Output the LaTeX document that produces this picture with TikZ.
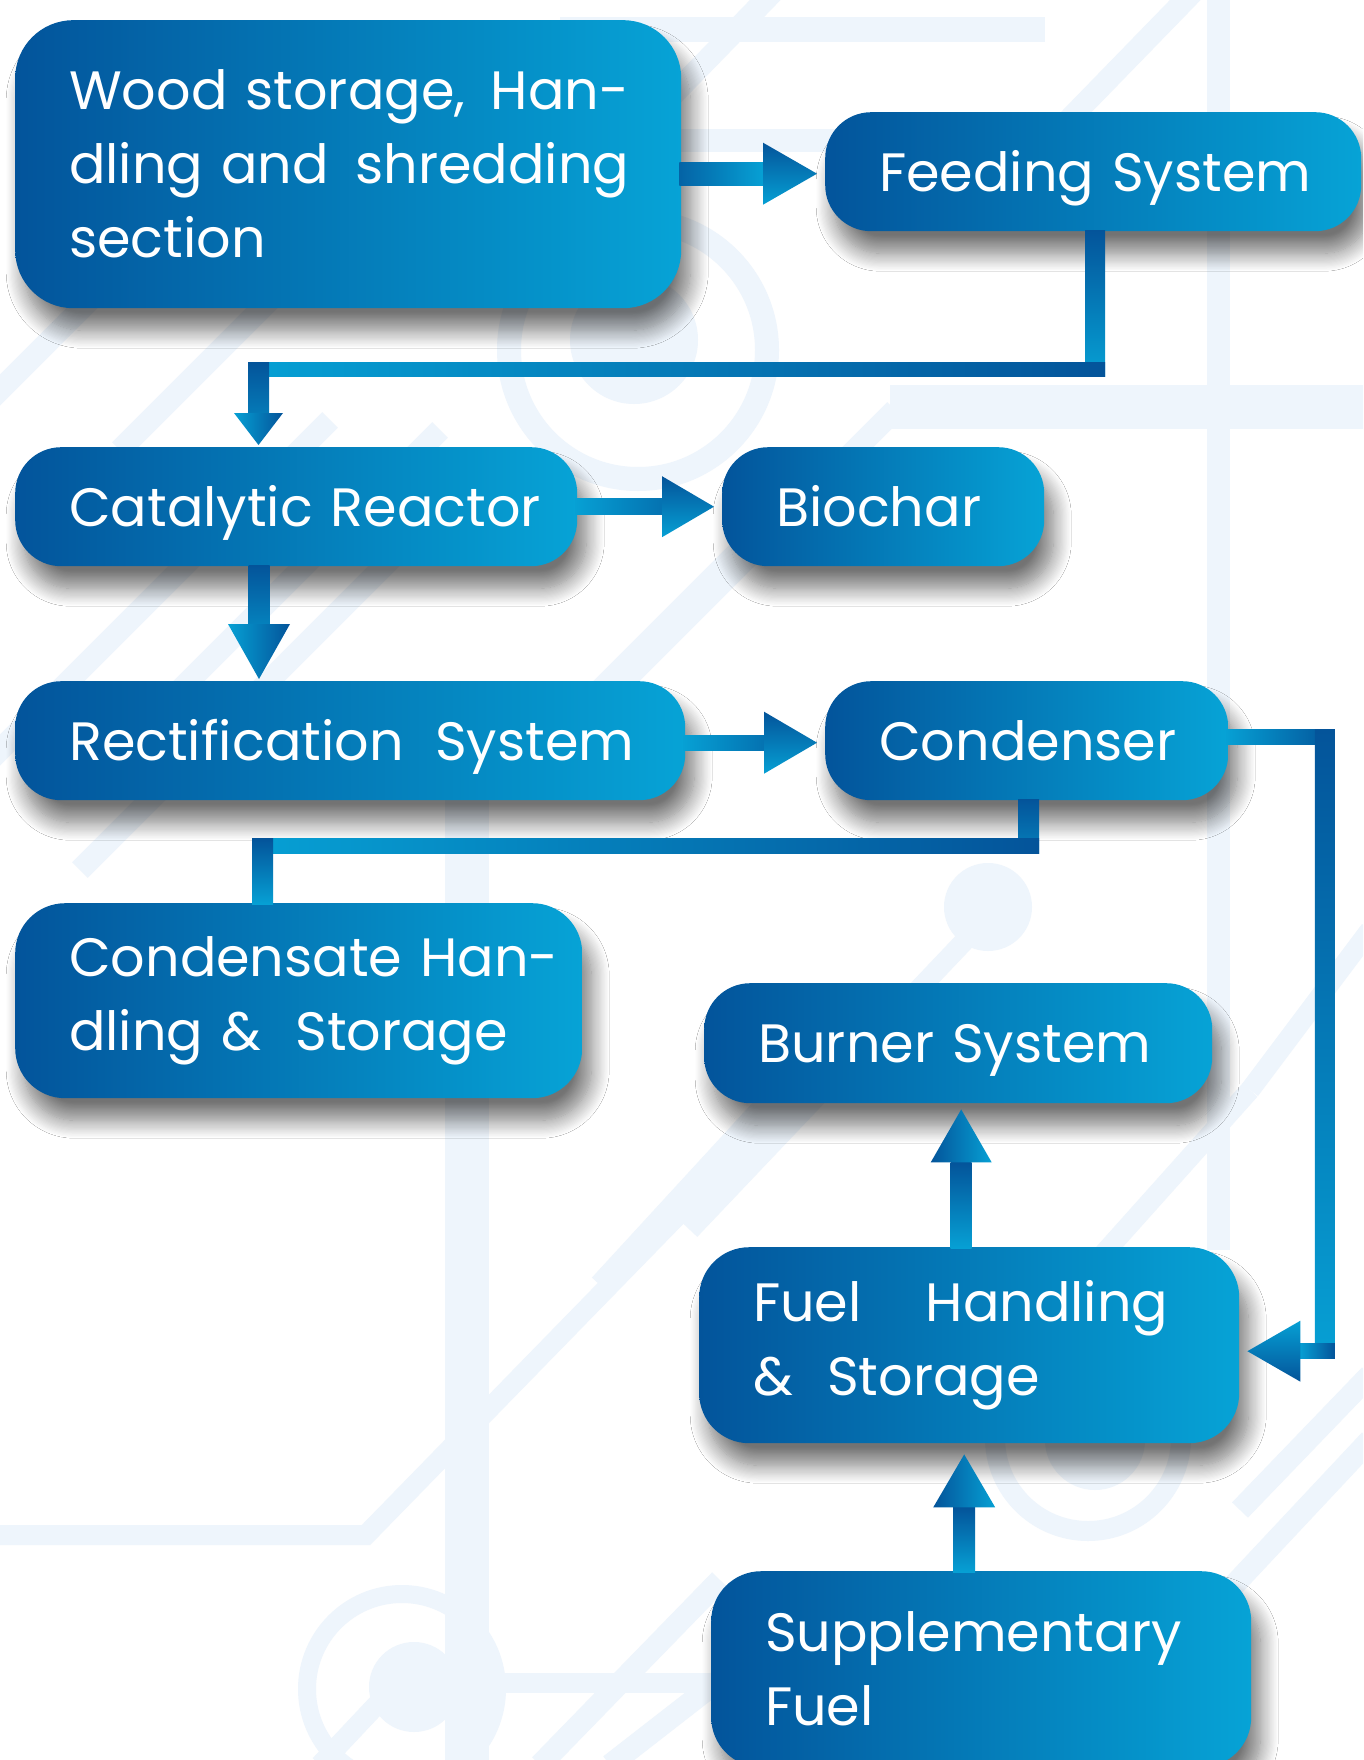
\documentclass[tikz,border=0pt]{standalone}
\usepackage{fontspec}
\setmainfont{Poppins}
\usetikzlibrary{calc,shadows.blur}
\definecolor{boxL}{RGB}{3,84,155}
\definecolor{boxR}{RGB}{6,163,214}
\definecolor{arrD}{RGB}{4,84,154}
\definecolor{arrL}{RGB}{6,160,212}
\definecolor{bgline}{RGB}{238,245,252}
\tikzset{
  blk/.style={rectangle, rounded corners=#1, left color=boxL, right color=boxR, draw=none,
    text=white, anchor=north west, inner xsep=54pt, inner ysep=0pt, align=left,
    font=\fontsize{54}{74}\selectfont,
    blur shadow={shadow xshift=9pt, shadow yshift=-22pt, shadow blur radius=18pt,
      shadow blur steps=16, shadow opacity=55}},
  blk/.default=46pt,
  one/.style={text height=44pt, text depth=5pt},
  bgl/.style={draw=bgline, line width=#1, line cap=butt, line join=miter},
}
\begin{document}
\begin{tikzpicture}[x=1pt,y=-1pt]
\useasboundingbox (0,0) rectangle (1363,1760);
\clip (0,0) rectangle (1363,1760);
\fill[white] (0,0) rectangle (1363,1760);
% ---------- background decoration ----------
\draw[bgl=23] (1218.5,-5) -- (1218.5,1250);
\draw[bgl=44] (466.5,800) -- (466.5,1765);
\draw[bgl=25] (560,30) -- (1045,30);
\draw[bgl=23] (600,140.5) -- (900,140.5);
\draw[bgl=22] (1195,-10) -- (1020,170);
\draw[bgl=22] (775,-10) -- (590,180);
\draw[bgl=44] (1370,407) -- (890,407);
\draw[bgl=22] (895,410) -- (560,745);
\draw[bgl=24] (638,350) circle[radius=129];
\fill[bgline] (634,340) circle[radius=64];
\draw[bgl=22] (-10,400) -- (130,260);
\draw[bgl=22] (120,450) -- (330,240);
\draw[bgl=22] (-10,760) -- (330,420);
\draw[bgl=22] (170,700) -- (440,430);
\draw[bgl=22] (600,690) -- (820,470);
\draw[bgl=22] (80,870) -- (400,550);
\draw[bgl=20] (-5,1535) -- (366,1535) -- (800,1090);
\draw[bgl=22] (720,1580) -- (540,1765);
\draw[bgl=22] (790,1625) -- (610,1765);
\draw[bgl=20] (489,1682.5) -- (760,1682.5);
\draw[bgl=18] (402,1689) circle[radius=95];
\fill[bgline] (414,1687) circle[radius=45];
\draw[bgl=20] (400,1680) -- (320,1765);
\fill[bgline] (988,907) circle[radius=44];
\draw[bgl=20] (975,930) -- (690,1230);
\draw[bgl=20] (1250,1090) -- (1080,1280);
\draw[bgl=20] (1370,930) -- (1250,1090);
\draw[bgl=22] (600,1285) -- (770,1100);
\draw[bgl=20] (1088,1438) circle[radius=93];
\fill[bgline] (1095,1440) circle[radius=50];
\draw[bgl=22] (1370,1375) -- (1240,1510);
\draw[bgl=22] (1370,1440) -- (1220,1600);
% ---------- boxes ----------
\node[blk=58pt, minimum width=666pt, minimum height=288pt, text width=558pt] (wood) at (15,20)
  {\makebox[560pt][s]{Wood storage,\hfill Han-}\\\makebox[560pt][s]{dling and\hfill shredding}\\\mbox{section}};
\node[blk, one, minimum width=536pt, minimum height=119pt, text width=428pt] (feed) at (825,112) {\mbox{Feeding System}};
\node[blk, one, minimum width=562pt, minimum height=119pt, text width=454pt] (cat) at (15,447) {\mbox{Catalytic Reactor}};
\node[blk, one, minimum width=322pt, minimum height=119pt, text width=214pt] (bio) at (722,447) {\mbox{Biochar}};
\node[blk, one, minimum width=670pt, minimum height=119pt, text width=562pt] (rect) at (15,681) {\mbox{Rectification\hspace{0.25em} System}};
\node[blk, one, minimum width=403pt, minimum height=119pt, text width=295pt] (cond) at (825,681) {\mbox{Condenser}};
\node[blk=50pt, minimum width=567pt, minimum height=195pt, text width=459pt] (condh) at (15,903)
  {\mbox{Condensate Han-}\\\mbox{dling \&\hspace{0.3em} Storage}};
\node[blk, one, minimum width=508pt, minimum height=120pt, text width=400pt] (burn) at (704,983) {\mbox{Burner System}};
\node[blk=50pt, minimum width=540pt, minimum height=196pt, text width=432pt] (fuel) at (699,1247)
  {\makebox[415pt][s]{Fuel\hfill Handling}\\\mbox{\&\hspace{0.3em} Storage}};
\node[blk=50pt, minimum width=540pt, minimum height=196pt, text width=432pt] (supp) at (711,1571)
  {\mbox{Supplementary}\\\mbox{Fuel}};
% ---------- connectors ----------
% wood -> feed
\coordinate (a1) at ($(feed.west)+(-8,2)$);
\shade[left color=arrD!80!arrL, right color=arrL] ($(wood.east |- a1)+(-2,-11.5)$) rectangle ($(a1)+(-54,11.5)$);
\shade[top color=arrD, bottom color=arrL] ($(a1)+(-54,-31)$) -- (a1) -- ($(a1)+(-54,31)$) -- cycle;
% feed -> cat
\coordinate (b2) at ($(cat.north west)+(243.5,-2)$);
\coordinate (b3) at ($(feed.south)+(2,138)$);
\shade[top color=arrD, bottom color=arrL] ($(feed.south)+(-8,-1)$) rectangle ($(b3)+(10,7)$);
\shade[left color=arrL, right color=arrD] ($(b2 |- b3)+(-10.5,-7)$) rectangle ($(b3)+(10,7)$);
\shade[top color=arrD, bottom color=arrD!50!arrL] ($(b2 |- b3)+(-10.5,-7)$) rectangle ($(b2)+(10.5,-31)$);
\shade[left color=arrL, right color=arrD] ($(b2)+(-24.5,-32)$) -- ($(b2)+(24.5,-32)$) -- (b2) -- cycle;
% cat -> bio
\coordinate (c1) at ($(bio.west)+(-8,0)$);
\shade[left color=arrL, right color=arrD!60!arrL] ($(cat.east |- c1)+(-2,-8)$) rectangle ($(c1)+(-52,8)$);
\shade[top color=arrD, bottom color=arrL] ($(c1)+(-52,-30.5)$) -- (c1) -- ($(c1)+(-52,30.5)$) -- cycle;
% cat -> rect
\coordinate (d1) at ($(rect.north west)+(244,-2)$);
\shade[top color=arrD, bottom color=arrD!40!arrL] ($(d1 |- cat.south)+(-10.5,-1)$) rectangle ($(d1)+(10.5,-54)$);
\shade[left color=arrL, right color=arrD] ($(d1)+(-31,-55)$) -- ($(d1)+(31,-55)$) -- (d1) -- cycle;
% rect -> cond
\coordinate (e1) at ($(cond.west)+(-8,2)$);
\shade[left color=arrL, right color=arrD!60!arrL] ($(rect.east |- e1)+(-2,-7.5)$) rectangle ($(e1)+(-53,7.5)$);
\shade[top color=arrD, bottom color=arrL] ($(e1)+(-53,-31)$) -- (e1) -- ($(e1)+(-53,31)$) -- cycle;
% cond -> condh
\coordinate (f1) at ($(cond.south)+(2,0)$);
\coordinate (f2) at ($(condh.north west)+(247.5,0)$);
\coordinate (f3) at ($(f1)+(0,46)$);
\shade[top color=arrD, bottom color=arrD!40!arrL] ($(f1)+(-10.5,-1)$) rectangle ($(f3)+(10.5,7.5)$);
\shade[left color=arrL, right color=arrD] ($(f2 |- f3)+(-10.5,-7.5)$) rectangle ($(f3)+(10.5,7.5)$);
\shade[top color=arrD, bottom color=arrL] ($(f2 |- f3)+(-10.5,-7.5)$) rectangle ($(f2)+(10.5,1)$);
% cond -> fuel
\coordinate (g1) at ($(fuel.east)+(8,6)$);
\coordinate (g2) at ($(cond.east)+(96.5,-4)$);
\shade[left color=arrL, right color=arrD] ($(cond.east |- g2)+(-2,-7.5)$) rectangle ($(g2)+(10,7.5)$);
\shade[top color=arrD, bottom color=arrL] ($(g2)+(-10,-7.5)$) rectangle ($(g2 |- g1)+(10,7.5)$);
\shade[left color=arrL, right color=arrD] ($(g1)+(52,-7.5)$) rectangle ($(g2 |- g1)+(10,7.5)$);
\shade[top color=arrL, bottom color=arrD] (g1) -- ($(g1)+(53,-30.5)$) -- ($(g1)+(53,30.5)$) -- cycle;
% fuel -> burn
\coordinate (h1) at ($(burn.south)+(3,6)$);
\shade[top color=arrD, bottom color=arrL] ($(fuel.north -| h1)+(-10.5,1)$) rectangle ($(h1)+(10.5,53)$);
\shade[left color=arrD, right color=arrL] (h1) -- ($(h1)+(-30.5,53)$) -- ($(h1)+(30.5,53)$) -- cycle;
% supp -> fuel
\coordinate (i1) at ($(fuel.south)+(-5,11)$);
\shade[top color=arrD, bottom color=arrL] ($(supp.north -| i1)+(-11,1)$) rectangle ($(i1)+(11,53)$);
\shade[left color=arrD, right color=arrL] (i1) -- ($(i1)+(-31,53)$) -- ($(i1)+(31,53)$) -- cycle;
\end{tikzpicture}
\end{document}
